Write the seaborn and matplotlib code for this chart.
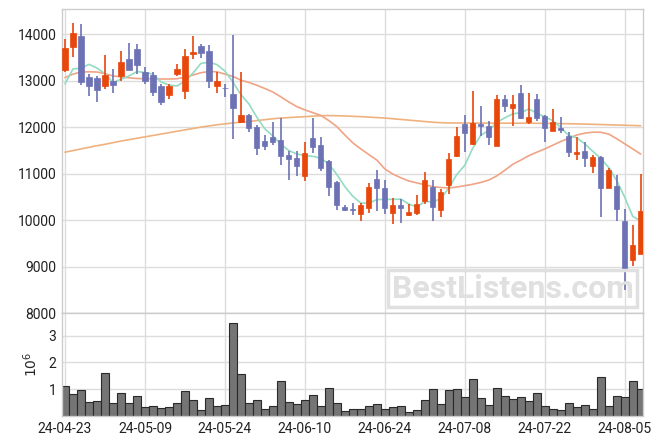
import numpy as np
import pandas as pd
import matplotlib
matplotlib.use("Agg")
import matplotlib.pyplot as plt
import seaborn as sns

# daily OHLC (trading-day index 0..72)
opens = [13220, 13725, 13960, 13070, 13050, 12880, 13000, 13100, 13466, 13680,
         13195, 13130, 12875, 12680, 13135, 12775, 13575, 13740, 13633, 12876,
         12845, 12718, 12120, 12270, 12005, 11710, 11795, 11730, 11405, 11327,
         10958, 11760, 11615, 11276, 10822, 10275, 10245, 10137, 10254, 10894,
         10700, 10159, 10325, 10102, 10159, 10412, 10714, 10224, 10764, 11384,
         12061, 11637, 12076, 12033, 11586, 12595, 12407, 12740, 12104, 12595,
         12249, 11925, 11983, 11817, 11421, 11478, 11153, 11363, 10686, 10736,
         9979, 9130, 9272]
highs = [13890, 14230, 14210, 13140, 13110, 13560, 13260, 13630, 13800, 13785,
         13300, 13185, 12935, 12935, 13350, 13676, 13957, 13780, 13777, 13185,
         12935, 13980, 13185, 12290, 12050, 11830, 12120, 12200, 11490, 11490,
         11687, 12200, 11780, 11290, 10840, 10320, 10375, 10375, 10807, 11075,
         10866, 10483, 10462, 10340, 10535, 11024, 10860, 10665, 11435, 11996,
         12270, 12775, 12444, 12126, 12681, 12681, 12681, 12898, 12740, 12718,
         12260, 12394, 12227, 11890, 11780, 11672, 11406, 11370, 11110, 10967,
         10232, 9886, 10989]
lows = [13180, 13500, 12900, 12660, 12550, 12830, 12740, 13000, 13230, 13140,
        12935, 12660, 12465, 12610, 13090, 12610, 13475, 13480, 12848, 12740,
        12645, 11750, 12090, 11890, 11400, 11515, 11620, 11190, 10866, 10950,
        10830, 11450, 11060, 10520, 10217, 10195, 10100, 9980, 10160, 10195,
        10137, 9908, 9943, 10094, 10100, 10340, 9980, 10066, 10556, 11363,
        11456, 11622, 11817, 11616, 11586, 12321, 12033, 12170, 12070, 12126,
        11672, 11925, 11866, 11363, 11290, 11147, 11002, 10066, 10686, 9980,
        8503, 9006, 9265]
closes = [13710, 14015, 12970, 12880, 12790, 13130, 12910, 13395, 13236, 13340,
          13000, 12750, 12540, 12876, 13243, 13524, 13611, 13600, 12990, 13000,
          12835, 12416, 12270, 11990, 11540, 11585, 11672, 11370, 11305, 11153,
          11449, 11565, 11130, 10720, 10320, 10225, 10225, 10325, 10714, 10700,
          10254, 10325, 10267, 10174, 10355, 10860, 10282, 10606, 11320, 11817,
          11866, 12091, 12026, 11780, 12595, 12450, 12487, 12190, 12227, 12191,
          11975, 12119, 11946, 11456, 11456, 11327, 11348, 10686, 11082, 10232,
          8948, 9461, 10195]
volumes = [1120000, 820000, 970000, 520000, 560000, 1600000, 480000, 860000, 480000, 750000,
           340000, 370000, 300000, 340000, 480000, 930000, 600000, 220000, 680000, 370000,
           410000, 3460000, 1570000, 470000, 600000, 260000, 370000, 1310000, 520000, 440000,
           600000, 780000, 370000, 1030000, 470000, 190000, 260000, 260000, 370000, 440000,
           260000, 340000, 370000, 140000, 220000, 600000, 1000000, 450000, 970000, 1000000,
           710000, 1370000, 670000, 400000, 1030000, 750000, 630000, 700000, 560000, 850000,
           370000, 260000, 210000, 470000, 340000, 400000, 260000, 1440000, 370000, 750000,
           700000, 1290000, 1000000]

# moving-average lines as drawn on the reference
ma_short = [12930, 13250, 13270, 13350, 13270, 13150, 12960, 13030, 13100, 13195,
            13175, 13140, 12975, 12905, 12885, 12990, 13160, 13370, 13395, 13345,
            13205, 12970, 12700, 12500, 12210, 11960, 11810, 11630, 11495, 11420,
            11390, 11370, 11330, 11205, 10980, 10720, 10510, 10365, 10365, 10440,
            10445, 10445, 10450, 10345, 10280, 10400, 10390, 10460, 10690, 10980,
            11180, 11550, 11825, 11930, 12100, 12200, 12285, 12310, 12390, 12300,
            12220, 12140, 11990, 11820, 11770, 11640, 11480, 11330, 11130, 10850,
            10490, 10080, 9980]
ma_mid = [13065, 13140, 13185, 13190, 13185, 13150, 13100, 13080, 13060, 13045,
          13040, 13040, 13035, 13035, 13040, 13070, 13120, 13170, 13195, 13190,
          13140, 13090, 13010, 12960, 12900, 12830, 12755, 12650, 12540, 12440,
          12370, 12310, 12250, 12140, 12010, 11830, 11660, 11530, 11410, 11290,
          11100, 10990, 10910, 10840, 10800, 10760, 10720, 10700, 10690, 10710,
          10740, 10770, 10810, 10860, 10950, 11070, 11200, 11290, 11385, 11460,
          11530, 11610, 11690, 11760, 11830, 11870, 11890, 11890, 11850, 11750,
          11640, 11530, 11420]
ma_long = [11460, 11495, 11530, 11565, 11600, 11630, 11665, 11700, 11730, 11760,
           11790, 11820, 11850, 11880, 11910, 11940, 11970, 12000, 12025, 12050,
           12070, 12090, 12105, 12120, 12140, 12160, 12180, 12195, 12205, 12215,
           12225, 12235, 12245, 12248, 12245, 12240, 12232, 12225, 12215, 12205,
           12195, 12180, 12165, 12150, 12135, 12120, 12105, 12095, 12090, 12088,
           12087, 12087, 12086, 12086, 12085, 12085, 12084, 12084, 12083, 12082,
           12080, 12078, 12075, 12072, 12069, 12065, 12060, 12055, 12050, 12045,
           12040, 12035, 12030]

tick_labels = ["24-04-23", "24-05-09", "24-05-24", "24-06-10",
               "24-06-24", "24-07-08", "24-07-22", "24-08-05"]

UP = "#e8470c"
DOWN = "#6c72b4"

df = pd.DataFrame({"o": opens, "h": highs, "l": lows, "c": closes,
                   "v": volumes, "ma5": ma_short, "ma20": ma_mid, "ma_long": ma_long})
df["i"] = np.arange(len(df))

sns.set_theme(style="whitegrid")
plt.rcParams["font.family"] = ["Roboto", "DejaVu Sans"]
plt.rcParams["axes.edgecolor"] = "#cccccc"
plt.rcParams["grid.color"] = "#dddddd"

fig = plt.figure(figsize=(6.63, 4.44), dpi=100)
ax = fig.add_axes([0.0935, 0.295, 0.8765, 0.684])
axv = fig.add_axes([0.0935, 0.063, 0.8765, 0.232], sharex=ax)

# moving averages
sns.lineplot(data=df, x="i", y="ma_long", ax=ax, color="#efb27e", lw=1.2, zorder=2)
sns.lineplot(data=df, x="i", y="ma20", ax=ax, color="#f0a486", lw=1.2, zorder=2)
sns.lineplot(data=df, x="i", y="ma5", ax=ax, color="#93dcc2", lw=1.2, zorder=2)

# candles
colors = np.where(df["c"] >= df["o"], UP, DOWN)
ax.vlines(df["i"], df["l"], df["h"], colors=colors, lw=1.2, zorder=3)
body_lo = np.minimum(df["o"], df["c"])
body_h = np.maximum(np.abs(df["c"] - df["o"]), 15)
ax.bar(df["i"], body_h, bottom=body_lo, width=0.65, color=colors,
       edgecolor=colors, lw=0.5, zorder=4)

ax.set_ylim(8000, 14534)
ax.set_yticks(range(8000, 14001, 1000))
ax.set_xlabel("")
ax.set_ylabel("")
ax.tick_params(axis="x", labelbottom=False)

# volume
sns.barplot(data=df, x="i", y="v", ax=axv, native_scale=True, width=1,
            color="#757575", edgecolor="#2a2a2a", linewidth=0.8, saturation=1)
axv.set_ylim(0, 3.84e6)
axv.set_yticks([1e6, 2e6, 3e6])
axv.set_yticklabels(["1", "2", "3"])
axv.set_xlabel("")
axv.set_ylabel("$10^6$", fontsize=10, labelpad=6)

axv.set_xticks(range(0, 73, 10))
axv.set_xticklabels(tick_labels)
axv.set_xlim(-0.375, 72.3)

for a in (ax, axv):
    a.tick_params(length=0, labelsize=10, colors="#222222", pad=4)
    a.grid(True, color="#dddddd", lw=1)
    for s in a.spines.values():
        s.set_color("#cccccc")
        s.set_linewidth(1)

fig.text(0.773, 0.350, "BestListens.com", fontsize=23, fontweight="bold",
         color="#e0e0e0", ha="center", va="center",
         bbox=dict(boxstyle="square,pad=0.12", fc="none", ec="#e0e0e0", lw=2.5))

fig.savefig("out.png", dpi=100)
